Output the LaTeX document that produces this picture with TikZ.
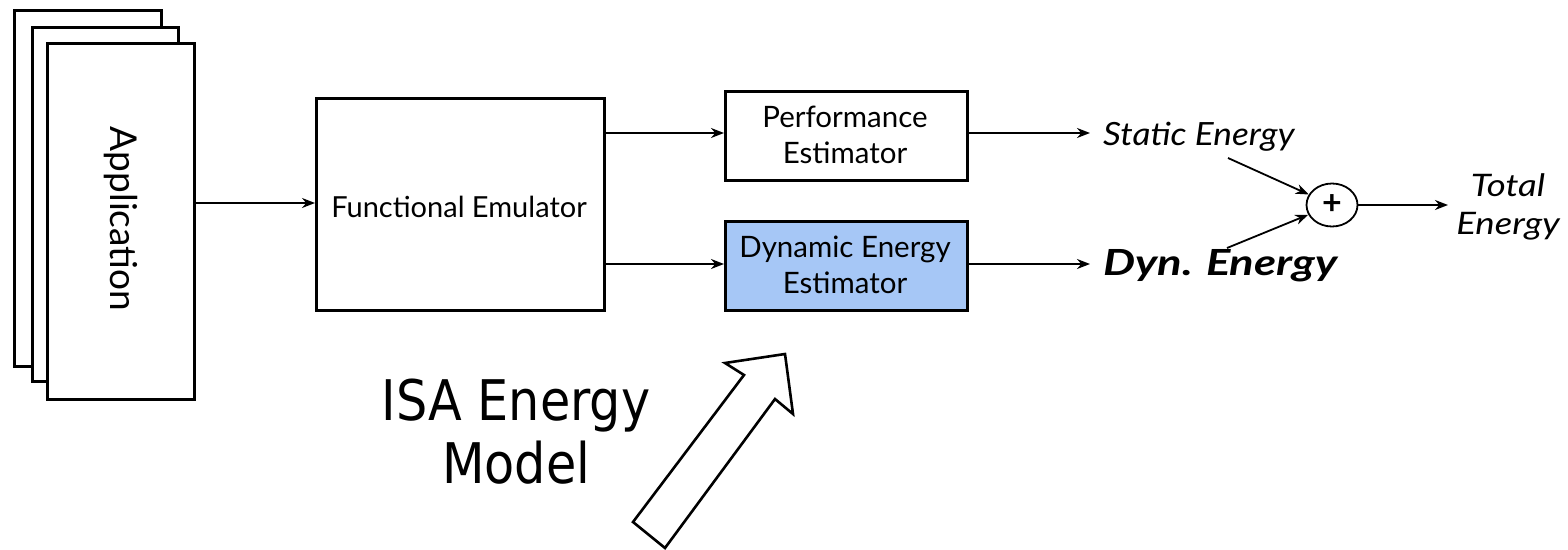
\documentclass[tikz,border=0pt]{standalone}
\usepackage{fontspec}
\setmainfont{Lato}
\newfontfamily\isafont{DejaVu Sans}
\usetikzlibrary{arrows.meta,shapes.geometric}
\definecolor{dynblue}{RGB}{166,199,246}
\tikzset{
  blk/.style={draw=black, line width=2.6pt, fill=white},
  conn/.style={line width=1.8pt, -{Stealth[length=13pt,width=10pt]}},
  lbl/.style={font=\fontsize{29.5}{36}\selectfont, align=center, inner sep=0pt},
}
\begin{document}
\begin{tikzpicture}[x=1pt,y=-1pt]
\useasboundingbox (0,0) rectangle (1568,549);
% application stack
\node[blk, minimum width=147pt, minimum height=356pt, anchor=north west] (app3) at (13,9) {};
\node[blk, minimum width=146pt, minimum height=354pt, anchor=north west] (app2) at (31,26) {};
\node[blk, minimum width=147pt, minimum height=356pt, anchor=north west] (app) at (46,42) {};
\node[rotate=-90, font=\fontsize{37}{40}\selectfont, inner sep=0pt] (apptxt) at (121,219) {Application};
% functional emulator
\node[blk, minimum width=288pt, minimum height=212pt, anchor=north west] (fe) at (315,97) {};
\node[lbl, font=\fontsize{29}{36}\selectfont] (fetxt) at (459,207) {Functional Emulator};
% estimators
\node[blk, minimum width=242pt, minimum height=89pt, anchor=north west] (pe) at (724,90) {};
\node[lbl] (petxt) at (845,135) {Performance\\Estimator};
\node[blk, fill=dynblue, minimum width=242pt, minimum height=89pt, anchor=north west] (de) at (724,220) {};
\node[lbl] (detxt) at (845,265) {Dynamic Energy\\Estimator};
% energies
\node[font=\fontsize{32}{36}\selectfont\itshape, anchor=west, inner sep=0pt, xscale=1.1, transform shape] (se) at (1103,137) {Static Energy};
\node[font=\fontsize{36}{36}\selectfont\bfseries\itshape, anchor=west, inner sep=0pt, xscale=1.26, transform shape] (dy) at (1103,266) {Dyn. Energy};
\node[draw, line width=1.8pt, ellipse, minimum width=51pt, minimum height=43pt, inner sep=0pt, font=\fontsize{34}{30}\selectfont\bfseries] (plus) at (1332,205) {+};
\node[font=\fontsize{31}{38}\selectfont\itshape, align=center, inner sep=0pt, xscale=1.18, transform shape] (tot) at (1508,207) {Total\\Energy};
\coordinate (s1) at (1228,158);
\coordinate (d1) at (1227,248);
% ISA
\node[font=\fontsize{56}{63}\selectfont\isafont, align=center, inner sep=0pt, xscale=0.88, transform shape] (isa) at (516,432) {ISA Energy\\Model};
% connectors
\coordinate (fe1) at (603,133);
\coordinate (fe2) at (603,264);
\draw[conn] (app.east |- 0,203) -- (fe.west |- 0,203);
\draw[conn] (fe1) -- (pe.west |- fe1);
\draw[conn] (fe2) -- (de.west |- fe2);
\draw[conn, shorten >=13pt] (pe.east |- 0,133) -- (se.west |- 0,133);
\draw[conn, shorten >=13pt] (de.east |- 0,264) -- (dy.west |- 0,264);
\draw[conn] (s1) -- (plus);
\draw[conn] (d1) -- (plus);
\draw[conn, shorten >=8pt] (plus) -- (tot.west |- plus);
% block arrow
\draw[line width=2.6pt, fill=white, line join=miter] (633,522) -- (744,375) -- (725,363) -- (785,354) -- (793,414) -- (775,399) -- (665,548) -- cycle;
\end{tikzpicture}
\end{document}
